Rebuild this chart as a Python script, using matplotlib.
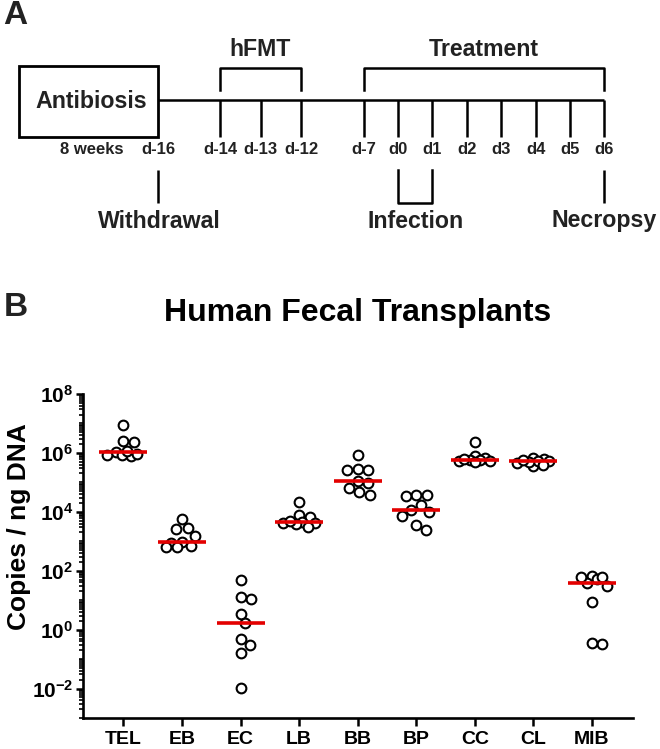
import numpy as np
import matplotlib
matplotlib.use('Agg')
import matplotlib.pyplot as plt
from matplotlib.patches import Rectangle
from matplotlib.ticker import FixedLocator, LogLocator, NullFormatter

plt.rcParams['font.family'] = ['Liberation Sans', 'DejaVu Sans']
plt.rcParams['font.weight'] = 'bold'
plt.rcParams['mathtext.fontset'] = 'custom'
plt.rcParams['mathtext.rm'] = 'Liberation Sans:bold'
plt.rcParams['mathtext.bf'] = 'Liberation Sans:bold'
plt.rcParams['mathtext.it'] = 'Liberation Sans:bold:italic'

# --- data (copies / ng DNA) ---
groups = ['TEL', 'EB', 'EC', 'LB', 'BB', 'BP', 'CC', 'CL', 'MIB']
tel = [8.7e6, 2.45e6, 2.35e6, 1.05e6, 8.5e5, 7.9e5, 8.9e5, 8.3e5, 1.12e6]
eb = [5500, 2700, 2800, 1480, 930, 890, 620, 680, 615]
ec = [50, 11, 12.9, 3.5, 1.66, 0.31, 0.48, 0.16, 0.0102]
lb = [21400, 7600, 6600, 4470, 4070, 3800, 4170, 3160, 5010]
bb = [2.57e5, 9.8e4, 3.7e4, 8.5e5, 2.8e5, 6.6e4, 2.6e5, 1.12e5, 4.7e4]
bp = [36300, 36000, 34700, 11500, 17000, 9800, 7200, 2400, 3550]
cc = [2.4e6, 7.6e5, 6.9e5, 5.75e5, 5.6e5, 5.5e5, 5.25e5, 5.0e5, 6.0e5]
cl = [4.5e5, 6.9e5, 6.2e5, 3.6e5, 5.4e5, 5.35e5, 3.9e5, 5.0e5, 5.75e5]
mib = [65, 39, 52, 30, 62, 61, 8.5, 0.33, 0.35]
values = [tel, eb, ec, lb, bb, bp, cc, cl, mib]

# timeline schematic
week_label = '8 weeks'
hfmt_days = ['d-14', 'd-13', 'd-12']
treat_days = ['d-7', 'd0', 'd1', 'd2', 'd3', 'd4', 'd5', 'd6']

TXT = '#222222'

fig = plt.figure(figsize=(6.6, 7.49), dpi=100)

# ---------------- panel A (drawn in pixel coords) ----------------
a = fig.add_axes([0, 0, 1, 1])
a.set_xlim(0, 660)
a.set_ylim(749, 0)
a.axis('off')
lw = 1.8

hx = [220 + 40.5 * k for k in range(len(hfmt_days))]
tx = [364] + [398 + 34.4 * k for k in range(len(treat_days) - 1)]

a.add_patch(Rectangle((19, 66), 139, 71, fill=False, lw=2.0, ec='black'))
a.plot([158, tx[-1]], [100, 100], color='black', lw=lw, solid_capstyle='butt')
for x in hx + tx:
    a.plot([x, x], [100, 137], color='black', lw=lw, solid_capstyle='butt')
a.plot([hx[0], hx[0], hx[-1], hx[-1]], [90, 68, 68, 90], color='black', lw=lw)
a.plot([tx[0], tx[0], tx[-1], tx[-1]], [90, 68, 68, 90], color='black', lw=lw)
a.plot([158, 158], [170, 203], color='black', lw=lw, solid_capstyle='butt')
a.plot([tx[1], tx[1], tx[2], tx[2]], [170, 203, 203, 170], color='black', lw=lw)
a.plot([tx[-1], tx[-1]], [170, 203], color='black', lw=lw, solid_capstyle='butt')

big = dict(fontsize=16.7, color=TXT, ha='center', va='center', fontweight='bold')
small = dict(fontsize=12, color=TXT, ha='center', va='center', fontweight='bold')
a.text(91, 102, 'Antibiosis', **big)
a.text((hx[0] + hx[-1]) / 2, 50, 'hFMT', **big)
a.text((tx[0] + tx[-1]) / 2, 50, 'Treatment', **big)
a.text(91.5, 149, week_label, **small)
a.text(158, 149, 'd-16', **small)
for x, d in zip(hx + tx, hfmt_days + treat_days):
    a.text(x, 149, d, **small)
a.text(159, 221, 'Withdrawal', **big)
a.text((tx[1] + tx[2]) / 2, 221, 'Infection', **big)
a.text(tx[-1], 221, 'Necropsy', **big)
a.text(3, 16, 'A', fontsize=24, color=TXT, ha='left', va='center', fontweight='bold')
a.text(4, 308, 'B', fontsize=24, color=TXT, ha='left', va='center', fontweight='bold')

# ---------------- panel B ----------------
fig.text(358 / 660, 1 - 313 / 749, 'Human Fecal Transplants', fontsize=23,
         ha='center', va='center', fontweight='bold', color='black')
fig.text(19 / 660, 1 - 527 / 749, 'Copies / ng DNA', fontsize=19, rotation=90,
         ha='center', va='center', fontweight='bold', color='black')

ax = fig.add_axes([83 / 660, 31 / 749, 550 / 660, 324 / 749])
ax.set_yscale('log')
ax.set_ylim(1e-3, 1e8)
ax.set_xlim(-0.69, len(groups) - 1 + 0.70)

# simple swarm: keep points within +-16 px of the group centre, overlap if crowded
diam = 10.5
steps = np.arange(0, 16.5, 0.5)
cand = [0.0] + [s for st in steps[1:] for s in (st, -st)]
ppu = ax.transData.transform((1, 1))[0] - ax.transData.transform((0, 1))[0]
for i, vals in enumerate(values):
    v = np.array(vals, dtype=float)
    pts = ax.transData.transform(np.column_stack([np.full(len(v), i), v]))
    ypx = pts[:, 1]
    placed = []
    dxs = np.zeros(len(v))
    for k in np.argsort(-ypx):
        best, best_d = 0.0, -1.0
        for dx in cand:
            d = min([np.hypot(dx - px, ypx[k] - py) for px, py in placed] or [1e9])
            if d >= diam:
                best = dx
                break
            if d > best_d + 0.5:
                best, best_d = dx, d
        placed.append((best, ypx[k]))
        dxs[k] = best
    ax.plot(i + dxs / ppu, v, 'o', ms=7.0, mfc='white', mec='black', mew=1.5,
            zorder=3, clip_on=False)
    ax.hlines(np.median(v), i - 0.41, i + 0.41, color='#e30000', lw=2.6, zorder=4)

for s in ['top', 'right']:
    ax.spines[s].set_visible(False)
for s in ['left', 'bottom']:
    ax.spines[s].set_linewidth(1.9)

ax.set_xticks(range(len(groups)))
ax.set_xticklabels(groups, fontsize=14, fontweight='bold')
major = [10.0 ** e for e in range(-2, 9, 2)]
ax.yaxis.set_major_locator(FixedLocator(major))
ax.set_yticklabels([r'$10^{%d}$' % e for e in range(-2, 9, 2)], fontsize=15)
ax.yaxis.set_minor_locator(LogLocator(base=10, subs=np.arange(1, 10), numticks=30))
ax.yaxis.set_minor_formatter(NullFormatter())
ax.tick_params(axis='y', which='major', length=5, width=1.8, pad=2, direction='out')
ax.tick_params(axis='y', which='minor', length=3, width=1.2, direction='out')
ax.tick_params(axis='x', which='major', length=6, width=1.8, pad=3, direction='out')

fig.savefig('out.png', dpi=100)
